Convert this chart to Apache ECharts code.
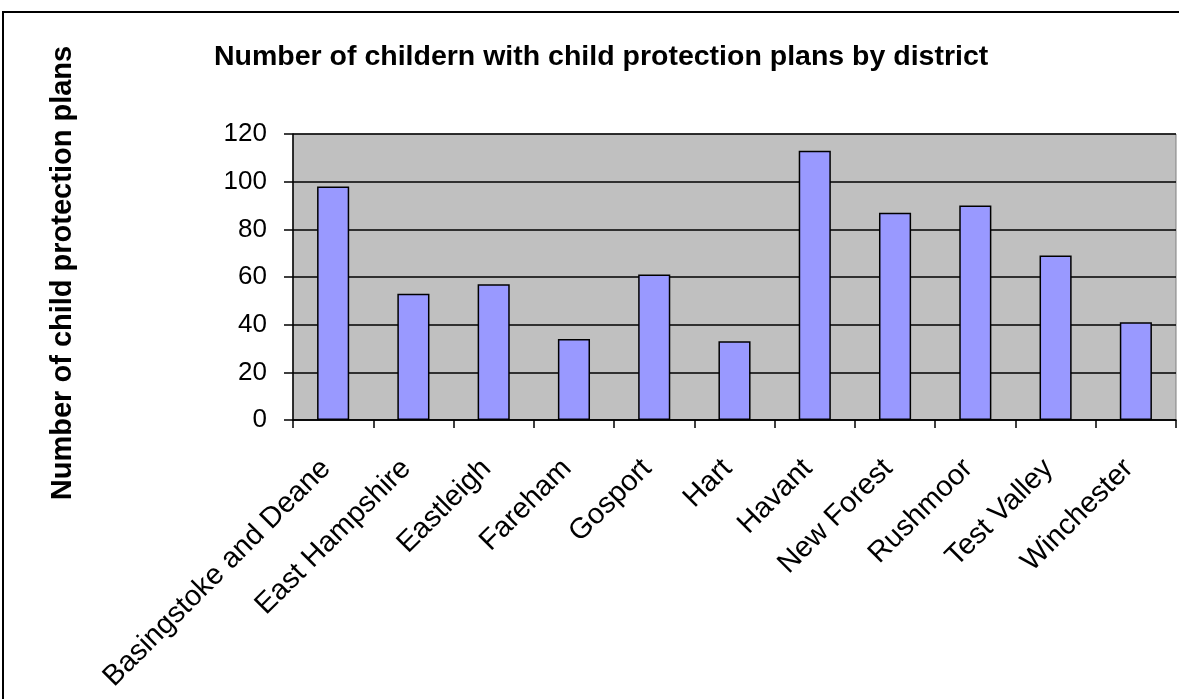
<!DOCTYPE html>
<html>
<head>
<meta charset="utf-8">
<script src="https://cdn.jsdelivr.net/npm/echarts@6/dist/echarts.min.js"></script>
<style>
  html, body { margin: 0; padding: 0; background: #ffffff; }
  #chart { width: 1179px; height: 699px; }
</style>
</head>
<body>
<div id="chart"></div>
<script>
// Children with child protection plans, by district
const districts = [
  'Basingstoke and Deane', 'East Hampshire', 'Eastleigh', 'Fareham', 'Gosport',
  'Hart', 'Havant', 'New Forest', 'Rushmoor', 'Test Valley', 'Winchester'
];
const planCounts = [98, 53, 57, 34, 61, 33, 113, 87, 90, 69, 41];
const yTicks = { min: 0, max: 120, step: 20 };

const chartTitle = 'Number of childern with child protection plans by district';
const yAxisTitle = 'Number of child protection plans';

const FONT = 'Arial, "Liberation Sans", Helvetica, sans-serif';

const chart = echarts.init(document.getElementById('chart'), null, { renderer: 'canvas' });

chart.setOption({
  animation: false,
  backgroundColor: '#ffffff',
  title: {
    text: chartTitle,
    left: 209,
    top: 38,
    textStyle: { fontFamily: FONT, fontSize: 28.5, fontWeight: 'bold', color: '#000000' }
  },
  graphic: [
    {
      // outer chart frame
      type: 'rect',
      shape: { x: 3, y: 12, width: 1300, height: 900 },
      style: { fill: null, stroke: '#000000', lineWidth: 2 },
      z: 100
    },
    {
      // vertical axis title
      type: 'text',
      x: 63,
      y: 273,
      rotation: Math.PI / 2,
      style: {
        text: yAxisTitle,
        fontFamily: FONT,
        fontSize: 29,
        fontWeight: 'bold',
        fill: '#000000',
        align: 'center',
        verticalAlign: 'middle'
      }
    }
  ],
  grid: {
    left: 293,
    right: 3,
    top: 134,
    bottom: 279,
    show: true,
    backgroundColor: '#c0c0c0',
    borderColor: '#808080',
    borderWidth: 1
  },
  xAxis: {
    type: 'category',
    data: districts,
    boundaryGap: true,
    axisLine: { show: true, lineStyle: { color: '#000000', width: 1.5 } },
    axisTick: { show: true, alignWithLabel: false, length: 8, lineStyle: { color: '#000000', width: 1.5 } },
    axisLabel: {
      interval: 0,
      rotate: 45,
      margin: 37,
      padding: [0, 10, 17, 0],
      fontFamily: FONT,
      fontSize: 29,
      color: '#000000'
    },
    splitLine: { show: false }
  },
  yAxis: {
    type: 'value',
    min: yTicks.min,
    max: yTicks.max,
    interval: yTicks.step,
    axisLine: { show: true, lineStyle: { color: '#000000', width: 1.5 } },
    axisTick: { show: true, inside: false, length: 9, lineStyle: { color: '#000000', width: 1.5 } },
    axisLabel: { margin: 26, fontFamily: FONT, fontSize: 26, color: '#000000' },
    splitLine: { show: true, lineStyle: { color: '#000000', width: 1.5 } }
  },
  series: [
    {
      type: 'bar',
      data: planCounts,
      barWidth: '40%',
      itemStyle: { color: '#9999ff', borderColor: '#000000', borderWidth: 1.5 }
    }
  ]
});
</script>
</body>
</html>
